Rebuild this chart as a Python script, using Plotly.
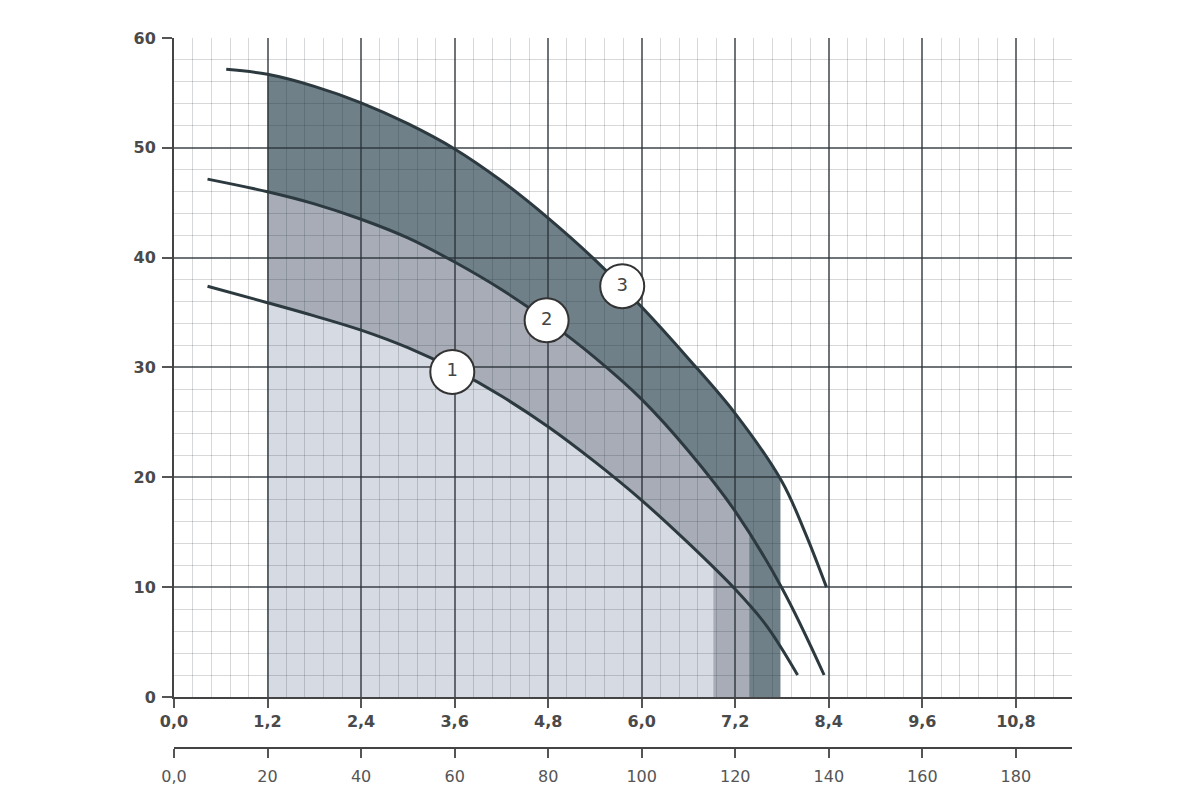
import plotly.graph_objects as go

# Q, m3/h  /  H, m
curve1_q = [0.43, 1.2, 1.8, 2.4, 3.0, 3.6, 4.2, 4.8, 5.4, 6.0, 6.6, 7.2, 7.6, 8.0]
curve1_h = [37.4, 35.9, 34.7, 33.4, 31.8, 29.8, 27.4, 24.6, 21.4, 17.9, 14.0, 9.8, 6.5, 2.0]

curve2_q = [0.43, 1.2, 1.8, 2.4, 3.0, 3.6, 4.2, 4.8, 5.4, 6.0, 6.6, 7.2, 7.8, 8.34]
curve2_h = [47.15, 46.0, 44.9, 43.5, 41.8, 39.6, 37.1, 34.2, 30.9, 27.1, 22.4, 16.9, 9.9, 2.0]

curve3_q = [0.67, 1.2, 1.8, 2.4, 3.0, 3.6, 4.2, 4.8, 5.4, 6.0, 6.6, 7.2, 7.8, 8.1, 8.37]
curve3_h = [57.15, 56.7, 55.6, 54.1, 52.2, 49.9, 47.0, 43.6, 39.8, 35.5, 30.8, 25.8, 19.6, 14.9, 10.0]

# working range of each pump (shaded areas)
range_start = 1.2
range_end = [6.92, 7.38, 7.78]

# curve number labels
label_q = [3.57, 4.78, 5.75]
label_h = [29.6, 34.3, 37.4]
label_txt = ["1", "2", "3"]

# second scale, l/min
lmin_vals = [0, 20, 40, 60, 80, 100, 120, 140, 160, 180]
lmin_text = ["0,0", "20", "40", "60", "80", "100", "120", "140", "160", "180"]

Q_MAX = 11.52
H_MAX = 60
Y_BOTTOM = 0.0873
fill_colors = ["#d6dae2", "#a7acb6", "#708089"]
line_color = "#2c3a40"
major_grid = "rgba(40,48,55,0.68)"
minor_grid = "rgba(30,40,50,0.18)"

curves = [(curve1_q, curve1_h), (curve2_q, curve2_h), (curve3_q, curve3_h)]

fig = go.Figure()
layout_axes = {}

# shaded areas: each one sits in its own hidden subplot, cut to the pump's range,
# drawn before the main subplot so its grid lies on top
for n, i in enumerate([2, 1, 0]):
    sfx = "" if n == 0 else str(n + 1)
    q, h = curves[i]
    fig.add_trace(go.Scatter(
        x=q, y=h, xaxis="x" + sfx, yaxis="y" + sfx,
        mode="lines", line=dict(width=0, shape="spline"),
        fill="tozeroy", fillcolor=fill_colors[i],
        hoverinfo="skip", showlegend=False,
    ))
    layout_axes["xaxis" + sfx] = dict(
        domain=[range_start / Q_MAX, range_end[i] / Q_MAX],
        range=[range_start, range_end[i]], visible=False, anchor="y" + sfx)
    layout_axes["yaxis" + sfx] = dict(
        domain=[Y_BOTTOM, 1], range=[0, H_MAX], visible=False, anchor="x" + sfx)

for q, h in curves:
    fig.add_trace(go.Scatter(
        x=q, y=h, xaxis="x4", yaxis="y4",
        mode="lines", line=dict(color=line_color, width=3, shape="spline"),
        hoverinfo="skip", showlegend=False,
    ))

fig.add_trace(go.Scatter(
    x=label_q, y=label_h, xaxis="x4", yaxis="y4",
    mode="markers+text", text=label_txt, textposition="middle center",
    marker=dict(size=44, color="white", line=dict(color="#333333", width=2)),
    textfont=dict(family="DejaVu Sans", size=18, color="#444444"),
    hoverinfo="skip", showlegend=False,
))

# invisible trace so the l/min axis gets drawn
fig.add_trace(go.Scatter(
    x=[0], y=[0], xaxis="x5", yaxis="y4", mode="markers",
    marker=dict(opacity=0), hoverinfo="skip", showlegend=False,
))

bold = dict(family="DejaVu Sans", size=16, color="#4a4a4a", weight="bold")

fig.update_layout(
    width=1200, height=800,
    margin=dict(l=166, r=136, t=30, b=48),
    paper_bgcolor="white", plot_bgcolor="rgba(0,0,0,0)",
    separators=", ",
    xaxis4=dict(
        domain=[0, 1], range=[0, Q_MAX], anchor="y4",
        tickmode="linear", tick0=0, dtick=1.2, tickformat=".1f",
        ticks="outside", ticklen=9, tickwidth=1.5, tickcolor="#555555",
        showline=True, linecolor="#444444", linewidth=2,
        showgrid=True, gridcolor=major_grid, gridwidth=1.5, zeroline=False,
        minor=dict(tick0=0, dtick=0.24, showgrid=True, gridcolor=minor_grid, gridwidth=1),
        tickfont=bold,
    ),
    yaxis4=dict(
        domain=[Y_BOTTOM, 1], range=[0, H_MAX], anchor="x4",
        tickmode="linear", tick0=0, dtick=10,
        ticks="outside", ticklen=10, tickwidth=1.5, tickcolor="#555555",
        showline=True, linecolor="#444444", linewidth=2,
        showgrid=True, gridcolor=major_grid, gridwidth=1.5, zeroline=False,
        minor=dict(tick0=0, dtick=2, showgrid=True, gridcolor=minor_grid, gridwidth=1),
        tickfont=bold, ticklabelstandoff=3,
    ),
    xaxis5=dict(
        overlaying="x4", anchor="free", position=0.0166, side="bottom",
        range=[0, Q_MAX / 1.2 * 20],
        tickmode="array", tickvals=lmin_vals, ticktext=lmin_text,
        ticks="outside", ticklen=9, tickwidth=1.5, tickcolor="#555555",
        showline=True, linecolor="#444444", linewidth=2,
        showgrid=False, zeroline=False,
        tickfont=dict(family="DejaVu Sans", size=16, color="#555555"),
        ticklabelstandoff=5,
    ),
    **layout_axes,
)

fig.write_html("out.html")
